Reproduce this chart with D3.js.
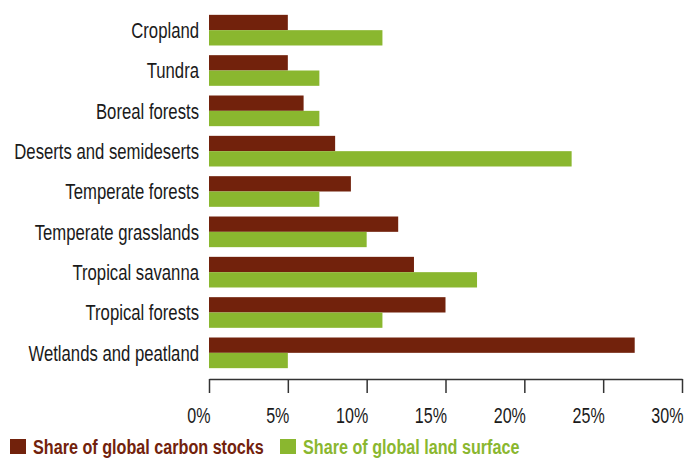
<!DOCTYPE html>
<html>
<head>
<meta charset="utf-8">
<script src="https://cdn.jsdelivr.net/npm/d3@7"></script>
<style>
  body { margin: 0; background: #fff; }
  text { font-family: "Liberation Sans", Arial, sans-serif; }
</style>
</head>
<body>
<div id="chart"></div>
<script>
// chart size
var width = 684,
    height = 458;

// data (percent)
var categories = ["Cropland", "Tundra", "Boreal forests", "Deserts and semideserts",
                  "Temperate forests", "Temperate grasslands", "Tropical savanna",
                  "Tropical forests", "Wetlands and peatland"];
var carbonStocks = [5, 5, 6, 8, 9, 12, 13, 15, 27];
var landSurface  = [11, 7, 7, 23, 7, 10, 17, 11, 5];
var seriesNames = ["Share of global carbon stocks", "Share of global land surface"];
var tickValues = [0, 5, 10, 15, 20, 25, 30];

var colors = ["#72220c", "#8ab72f"];

// no condensed font installed, so squeeze a regular one horizontally
var squeeze = "scale(0.76,1)";

var svg = d3.select("#chart")
    .append("svg")
    .attr("width", width)
    .attr("height", height);

var x = d3.scaleLinear()
    .domain([0, 30])
    .range([209, 682]);

var y = d3.scaleBand()
    .domain(categories)
    .range([10, 373])
    .paddingInner(0.24)
    .paddingOuter(0.12);

var sub = d3.scaleBand()
    .domain([0, 1])
    .range([0, y.bandwidth()]);

var rows = categories.map(function(c, i) {
  return {name: c, values: [carbonStocks[i], landSurface[i]]};
});

// bars
var row = svg.selectAll(".row")
    .data(rows)
    .enter()
    .append("g")
    .attr("class", "row")
    .attr("transform", function(d) { return "translate(0," + y(d.name) + ")"; });

row.selectAll("rect")
    .data(function(d) { return d.values; })
    .enter()
    .append("rect")
    .attr("x", x(0))
    .attr("y", function(d, i) { return sub(i); })
    .attr("width", function(d) { return x(d) - x(0); })
    .attr("height", sub.bandwidth())
    .attr("fill", function(d, i) { return colors[i]; });

// category labels
row.append("text")
    .attr("transform", "translate(199," + (y.bandwidth() / 2) + ") " + squeeze)
    .attr("dy", "0.36em")
    .attr("text-anchor", "end")
    .style("font-size", "22px")
    .attr("fill", "#1a1a1a")
    .text(function(d) { return d.name; });

// x axis
var xAxis = d3.axisBottom(x)
    .tickValues(tickValues)
    .tickSize(14)
    .tickSizeOuter(0)
    .tickFormat(function(d) { return d + "%"; });

var axisG = svg.append("g")
    .attr("transform", "translate(0,379)")
    .call(xAxis);

axisG.select(".domain")
    .attr("stroke", "#333")
    .attr("stroke-width", 1.5);

axisG.selectAll(".tick line")
    .attr("stroke", "#333")
    .attr("stroke-width", 1.5);

axisG.selectAll(".tick text")
    .attr("text-anchor", "end")
    .attr("x", 0)
    .attr("y", 0)
    .attr("dy", 0)
    .attr("transform", "translate(1,44) scale(0.73,1)")
    .attr("fill", "#1a1a1a")
    .style("font-family", "'Liberation Sans', Arial, sans-serif")
    .style("font-size", "22px");

// legend
var legendX = [10, 280];
var legend = svg.selectAll(".legend")
    .data(seriesNames)
    .enter()
    .append("g")
    .attr("class", "legend")
    .attr("transform", function(d, i) { return "translate(" + legendX[i] + ",439)"; });

legend.append("rect")
    .attr("width", 16)
    .attr("height", 15)
    .attr("fill", function(d, i) { return colors[i]; });

legend.append("text")
    .attr("transform", "translate(23,15) scale(0.77,1)")
    .style("font-size", "21px")
    .style("font-weight", "bold")
    .attr("fill", function(d, i) { return colors[i]; })
    .text(function(d) { return d; });
</script>
</body>
</html>
